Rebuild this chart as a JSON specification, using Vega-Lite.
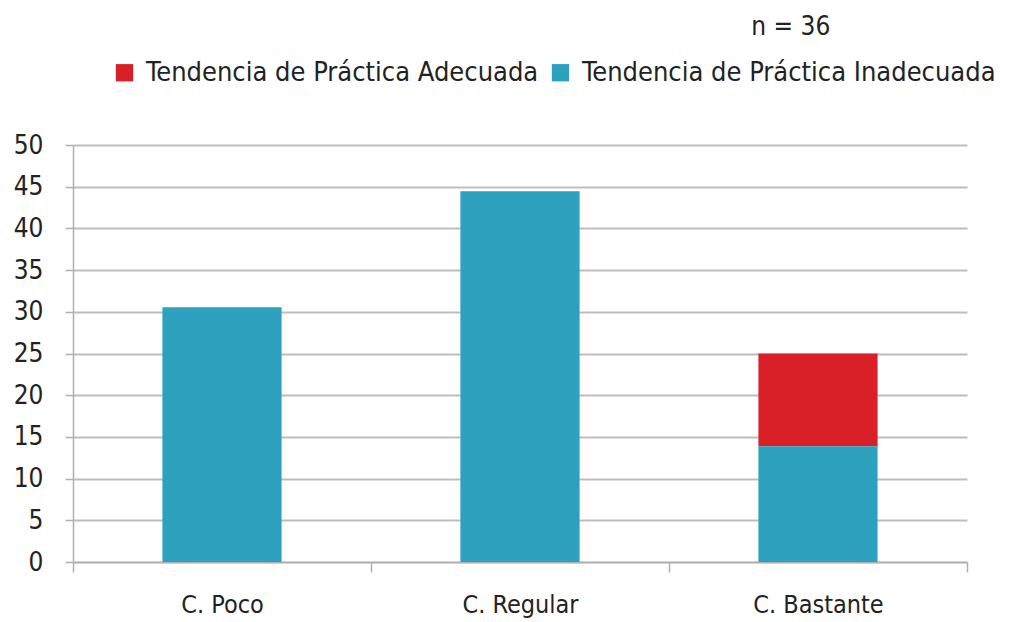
{
  "$schema": "https://vega.github.io/schema/vega-lite/v6.json",
  "width": 894,
  "height": 417,
  "autosize": {"type": "none"},
  "padding": {"left": 73, "top": 145, "right": 44, "bottom": 60},
  "background": "white",
  "title": {
    "text": "n = 36",
    "anchor": "start",
    "dx": 738,
    "offset": 19,
    "fontSize": 26,
    "fontWeight": "normal",
    "font": "DejaVu Sans Condensed, sans-serif",
    "color": "#222222"
  },
  "data": {
    "values": [
      {"categoria": "C. Poco", "serie": "Tendencia de Práctica Adecuada", "valor": 0},
      {"categoria": "C. Poco", "serie": "Tendencia de Práctica Inadecuada", "valor": 30.56},
      {"categoria": "C. Regular", "serie": "Tendencia de Práctica Adecuada", "valor": 0},
      {"categoria": "C. Regular", "serie": "Tendencia de Práctica Inadecuada", "valor": 44.44},
      {"categoria": "C. Bastante", "serie": "Tendencia de Práctica Adecuada", "valor": 11.11},
      {"categoria": "C. Bastante", "serie": "Tendencia de Práctica Inadecuada", "valor": 13.89}
    ]
  },
  "mark": {"type": "bar", "width": {"band": 0.4}},
  "encoding": {
    "x": {
      "field": "categoria",
      "type": "nominal",
      "sort": ["C. Poco", "C. Regular", "C. Bastante"],
      "scale": {"paddingInner": 0, "paddingOuter": 0},
      "axis": {
        "title": null,
        "labelAngle": 0,
        "labelFontSize": 25,
        "labelFont": "DejaVu Sans Condensed, sans-serif",
        "labelColor": "#222222",
        "labelPadding": 20,
        "tickBand": "extent",
        "tickSize": 10,
        "tickColor": "#b0b0b0",
        "tickWidth": 1.5,
        "domainColor": "#b0b0b0",
        "domainWidth": 1.5
      }
    },
    "y": {
      "field": "valor",
      "type": "quantitative",
      "stack": "zero",
      "scale": {"domain": [0, 50], "nice": false},
      "axis": {
        "title": null,
        "values": [0, 5, 10, 15, 20, 25, 30, 35, 40, 45, 50],
        "labelFontSize": 26,
        "labelFont": "DejaVu Sans Condensed, sans-serif",
        "labelColor": "#222222",
        "labelPadding": 22,
        "tickSize": 8,
        "tickColor": "#b0b0b0",
        "tickWidth": 1.5,
        "domainColor": "#b0b0b0",
        "domainWidth": 1.5,
        "grid": true,
        "gridColor": "#bdbdbd",
        "gridWidth": 2
      }
    },
    "color": {
      "field": "serie",
      "type": "nominal",
      "scale": {
        "domain": ["Tendencia de Práctica Adecuada", "Tendencia de Práctica Inadecuada"],
        "range": ["#d92029", "#2da1bd"]
      },
      "legend": {
        "title": null,
        "orient": "none",
        "legendX": 38,
        "legendY": -86,
        "direction": "horizontal",
        "symbolType": "square",
        "symbolSize": 300,
        "symbolStrokeWidth": 0,
        "labelFontSize": 27,
        "labelFont": "DejaVu Sans Condensed, sans-serif",
        "labelColor": "#222222",
        "labelLimit": 500,
        "columnPadding": 8,
        "labelOffset": 8
      }
    },
    "order": {"field": "serie", "sort": "descending"}
  },
  "config": {"view": {"stroke": null}}
}
